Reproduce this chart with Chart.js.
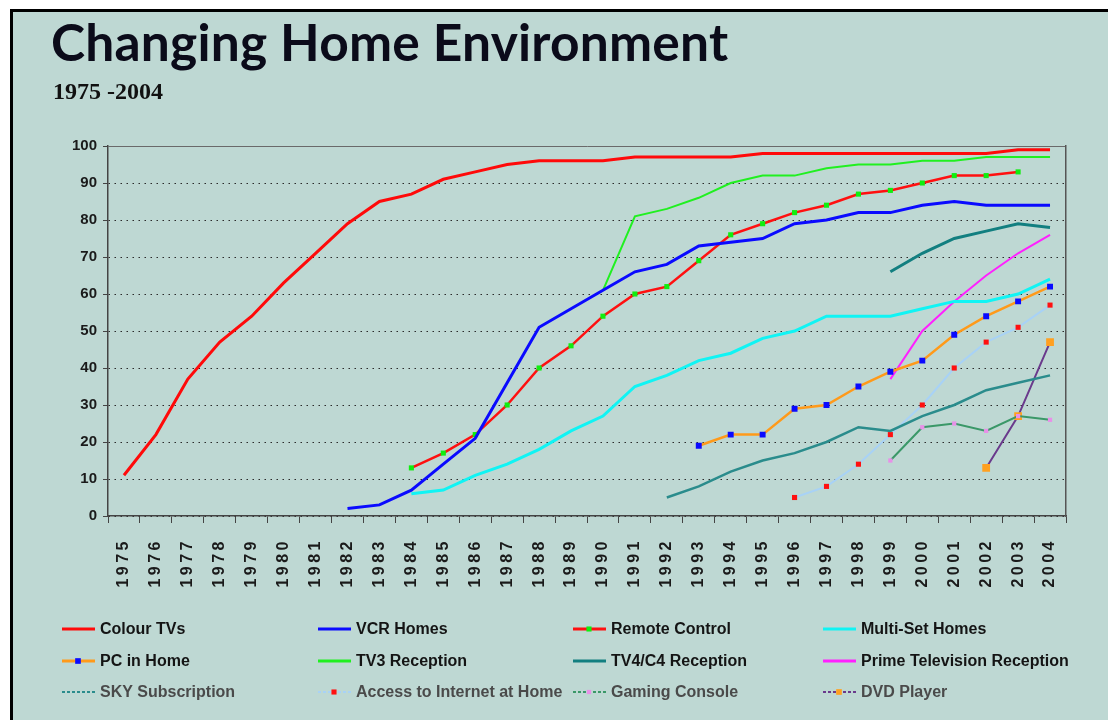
<!DOCTYPE html>
<html>
<head>
<meta charset="utf-8">
<title>Changing Home Environment</title>
<script src="https://cdn.jsdelivr.net/npm/chart.js@4.4.1/dist/chart.umd.min.js"></script>
<style>
  html, body { margin: 0; padding: 0; background: #fff; }
  body { width: 1108px; height: 720px; position: relative; overflow: hidden; }
  #panel {
    position: absolute; left: 10px; top: 9px; right: 0; bottom: 0;
    background: #bed8d3;
    border-top: 3px solid #000; border-left: 3px solid #000;
  }
  #title {
    position: absolute; left: 51px; top: 16px; margin: 0;
    font: 700 51.5px Lato, "Noto Sans", sans-serif; line-height: 1;
    color: #0b0b1a; white-space: nowrap; letter-spacing: 0.2px;
  }
  #subtitle {
    position: absolute; left: 53px; top: 79px; margin: 0;
    font: 700 24px "Liberation Serif", "DejaVu Serif", serif; line-height: 1;
    color: #111; white-space: nowrap;
  }
  #chart { position: absolute; left: 0; top: 0; }
</style>
</head>
<body>
<div id="panel"></div>
<canvas id="chart" width="1108" height="720"></canvas>
<h1 id="title">Changing Home Environment</h1>
<div id="subtitle">1975 -2004</div>

<script>
// year labels along the bottom
var years = ['1975','1976','1977','1978','1979','1980','1981','1982','1983','1984',
             '1985','1986','1987','1988','1989','1990','1991','1992','1993','1994',
             '1995','1996','1997','1998','1999','2000','2001','2002','2003','2004'];

// % of homes, one value per year (null = no figure that year)
var colourTVs = [11,22,37,47,54,63,71,79,85,87,91,93,95,96,96,96,97,97,97,97,98,98,98,98,98,98,98,98,99,99];
var vcrHomes = [null,null,null,null,null,null,null,
                2,3,7,14,21,36,51,56,61,66,68,73,74,75,79,80,82,82,84,85,84,84,84];
var remoteControl = [null,null,null,null,null,null,null,null,null,
                     13,17,22,30,40,46,54,60,62,69,76,79,82,84,87,88,90,92,92,93,null];
var multiSet = [null,null,null,null,null,null,null,null,null,
                6,7,11,14,18,23,27,35,38,42,44,48,50,54,54,54,56,58,58,60,64];
var pcInHome = [null,null,null,null,null,null,null,null,null,null,null,null,null,null,null,null,null,null,
                19,22,22,29,30,35,39,42,49,54,58,62];
var tv3 = [null,null,null,null,null,null,null,null,null,null,null,null,null,null,null,
           61,81,83,86,90,92,92,94,95,95,96,96,97,97,97];
var tv4c4 = [null,null,null,null,null,null,null,null,null,null,null,null,null,null,null,null,null,null,null,null,null,null,null,null,
             66,71,75,77,79,78];
var primeTV = [null,null,null,null,null,null,null,null,null,null,null,null,null,null,null,null,null,null,null,null,null,null,null,null,
               37,50,58,65,71,76];
var skySub = [null,null,null,null,null,null,null,null,null,null,null,null,null,null,null,null,null,
              5,8,12,15,17,20,24,23,27,30,34,36,38];
var internet = [null,null,null,null,null,null,null,null,null,null,null,null,null,null,null,null,null,null,null,null,null,
                5,8,14,22,30,40,47,51,57];
var gaming = [null,null,null,null,null,null,null,null,null,null,null,null,null,null,null,null,null,null,null,null,null,null,null,null,
              15,24,25,23,27,26];
var dvdPlayer = [null,null,null,null,null,null,null,null,null,null,null,null,null,null,null,null,null,null,null,null,null,null,null,null,null,null,null,
                 13,27,47];

function series(label, data, color, width, marker, markerSize) {
  return {
    label: label,
    data: data,
    borderColor: color,
    borderWidth: width,
    backgroundColor: color,
    pointStyle: 'rect',
    pointRadius: marker ? markerSize : 0,
    pointBackgroundColor: marker || color,
    pointBorderColor: marker || color,
    pointBorderWidth: 0,
    tension: 0
  };
}

var datasets = [
  series('Colour TVs', colourTVs, '#ff0a0a', 3),
  series('VCR Homes', vcrHomes, '#0a0aff', 3),
  series('Remote Control', remoteControl, '#ff1010', 2.5, '#10ee10', 3.6),
  series('Multi-Set Homes', multiSet, '#10f4f4', 3),
  series('PC in Home', pcInHome, '#ff9a1a', 2.5, '#0a0aff', 4.2),
  series('TV3 Reception', tv3, '#20f020', 2),
  series('TV4/C4 Reception', tv4c4, '#127f80', 3),
  series('Prime Television Reception', primeTV, '#ff20ff', 2),
  series('SKY Subscription', skySub, '#2a8c8c', 2.5),
  series('Access to Internet at Home', internet, '#a8d2f6', 2, '#ff1010', 3.6),
  series('Gaming Console', gaming, '#3a9868', 2, '#e890e8', 3),
  series('DVD Player', dvdPlayer, '#6a3a8c', 2, '#ffa020', 5.5)
];

// legend laid out as a 4 x 3 grid under the axis
var legendCols = [62, 318, 573, 823];
var legendRows = [629, 661, 692];

var gridLegend = {
  id: 'gridLegend',
  afterDraw: function (chart) {
    var c = chart.ctx;
    chart.data.datasets.forEach(function (ds, i) {
      var row = Math.floor(i / 4);
      var x = legendCols[i % 4];
      var y = legendRows[row];
      c.save();
      c.strokeStyle = ds.borderColor;
      c.lineWidth = row == 2 ? 2 : 3;
      if (row == 2) c.setLineDash([3, 2]);
      c.beginPath();
      c.moveTo(x, y);
      c.lineTo(x + 33, y);
      c.stroke();
      if (ds.pointRadius > 0) {
        var s = Math.min(ds.pointRadius, 4) * Math.SQRT2;
        c.fillStyle = ds.pointBackgroundColor;
        c.fillRect(x + 16 - s / 2, y - s / 2, s, s);
      }
      c.setLineDash([]);
      c.font = 'bold 16px "Liberation Sans", Arial, sans-serif';
      c.fillStyle = row == 2 ? '#4a4a4a' : '#141414';
      if (row == 2) c.filter = 'blur(0.5px)';
      c.textBaseline = 'middle';
      c.fillText(ds.label, x + 38, y + 1);
      c.restore();
    });
  }
};

// spread the digits of the year labels out a little
var spacedYears = {
  id: 'spacedYears',
  afterLayout: function (chart) {
    var sx = chart.scales.x;
    if (sx._spaced) return;
    var orig = sx.drawLabels;
    sx.drawLabels = function (area) {
      chart.ctx.save();
      chart.ctx.letterSpacing = '3.5px';
      orig.call(this, area);
      chart.ctx.restore();
    };
    sx._spaced = true;
  }
};

var tickFont = { family: '"Liberation Sans", Arial, sans-serif', size: 16, weight: 'bold' };

var homeChart = new Chart(document.getElementById('chart').getContext('2d'), {
  type: 'line',
  data: { labels: years, datasets: datasets },
  plugins: [gridLegend, spacedYears],
  options: {
    responsive: false,
    animation: false,
    layout: { padding: { left: 60, right: 42, top: 146, bottom: 104 } },
    plugins: {
      legend: { display: false },
      title: { display: false },
      tooltip: { enabled: false }
    },
    scales: {
      x: {
        offset: true,
        grid: { offset: true, drawOnChartArea: false, drawTicks: true, tickLength: 7, tickColor: '#444', tickWidth: 1 },
        border: { display: true, color: '#444', width: 1.5 },
        ticks: { autoSkip: false, minRotation: 90, maxRotation: 90, padding: 15, color: '#1a1a1a', font: tickFont },
        afterFit: function (scale) { scale.height = 100; }
      },
      y: {
        min: 0,
        max: 100,
        ticks: { stepSize: 10, padding: 6, color: '#1a1a1a', font: { family: tickFont.family, size: 15, weight: 'bold' } },
        grid: {
          color: function (c) { return c.tick && c.tick.value === 100 ? '#6a6a6a' : '#2a2a2a'; },
          lineWidth: 1,
          drawTicks: true,
          tickLength: 5,
          tickColor: '#444'
        },
        border: {
          display: true, color: '#444', width: 1.5,
          dash: function (c) { return c.tick && c.tick.value === 100 ? [] : [1.5, 4.5]; }
        },
        afterFit: function (scale) { scale.width = 48; }
      },
      right: {
        position: 'right',
        min: 0,
        max: 100,
        ticks: { display: false },
        grid: { display: false },
        border: { display: true, color: '#555', width: 1.5 },
        afterFit: function (scale) { scale.width = 0; }
      }
    }
  }
});
</script>
</body>
</html>
